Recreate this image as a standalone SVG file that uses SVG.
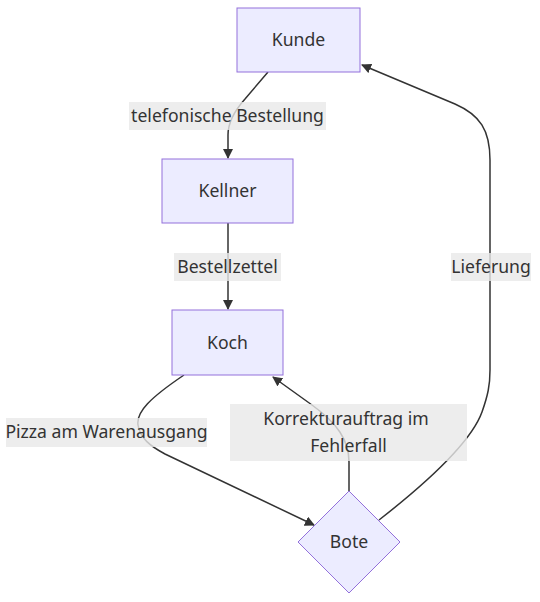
<svg xmlns="http://www.w3.org/2000/svg" width="540" height="602" viewBox="0 0 540 602">
<style>
.node rect, .node polygon { fill: #ECECFF; stroke: #9370DB; stroke-width: 1; }
text { font-family: "Noto Sans", "DejaVu Sans", sans-serif; font-size: 17.6px; fill: #333333; text-anchor: middle; dominant-baseline: central; }
.edge { fill: none; stroke: #333333; stroke-width: 1.5; }
.lbl { fill: rgba(232,232,232,0.8); }
</style>
<defs>
<marker id="arrow" viewBox="0 0 10 10" refX="9" refY="5" markerUnits="userSpaceOnUse" markerWidth="10" markerHeight="10" orient="auto">
<path d="M0,0 L10,5 L0,10 z" fill="#333333"/>
</marker>
</defs>
<g id="connectors">
<path class="edge" d="M268,72 L245,99 Q228,118 228,135 L228,158" marker-end="url(#arrow)"/>
<path class="edge" d="M228,223 L228,309" marker-end="url(#arrow)"/>
<path class="edge" d="M184,375 C150,398 136,412 138,425 C140,438 150,446 165,454 L314,525" marker-end="url(#arrow)"/>
<path class="edge" d="M349,491 L349,462 C349,440 337,423 312,405 L273,377" marker-end="url(#arrow)"/>
<path class="edge" d="M379,520 C420,488 470,445 482,412 C488,395 490,385 490,370 L490,160 C490,130 480,115 455,104 L362,65" marker-end="url(#arrow)"/>
</g>
<g id="edge-labels">
<g id="label-telefonische">
<rect class="lbl" x="129" y="102" width="197" height="28"/>
<text x="227.5" y="115">telefonische Bestellung</text>
</g>
<g id="label-bestellzettel">
<rect class="lbl" x="174" y="253" width="107" height="28"/>
<text x="227.5" y="266">Bestellzettel</text>
</g>
<g id="label-pizza">
<rect class="lbl" x="6" y="418" width="201" height="29"/>
<text x="106.5" y="431">Pizza am Warenausgang</text>
</g>
<g id="label-korrektur">
<rect class="lbl" x="230" y="404" width="237" height="57"/>
<text x="346" y="417.5">Korrekturauftrag im</text>
<text x="348.5" y="445">Fehlerfall</text>
</g>
<g id="label-lieferung">
<rect class="lbl" x="451" y="253" width="80" height="28"/>
<text x="491" y="266">Lieferung</text>
</g>
</g>
<g id="node-kunde" class="node">
<rect x="237" y="8" width="123" height="64"/>
<text x="298.5" y="39">Kunde</text>
</g>
<g id="node-kellner" class="node">
<rect x="162" y="159" width="131" height="64"/>
<text x="227.5" y="190">Kellner</text>
</g>
<g id="node-koch" class="node">
<rect x="172" y="310" width="111" height="65"/>
<text x="227.5" y="341.5">Koch</text>
</g>
<g id="node-bote" class="node">
<polygon points="349,491 400,542 349,593 298,542"/>
<text x="349" y="541">Bote</text>
</g>
</svg>
